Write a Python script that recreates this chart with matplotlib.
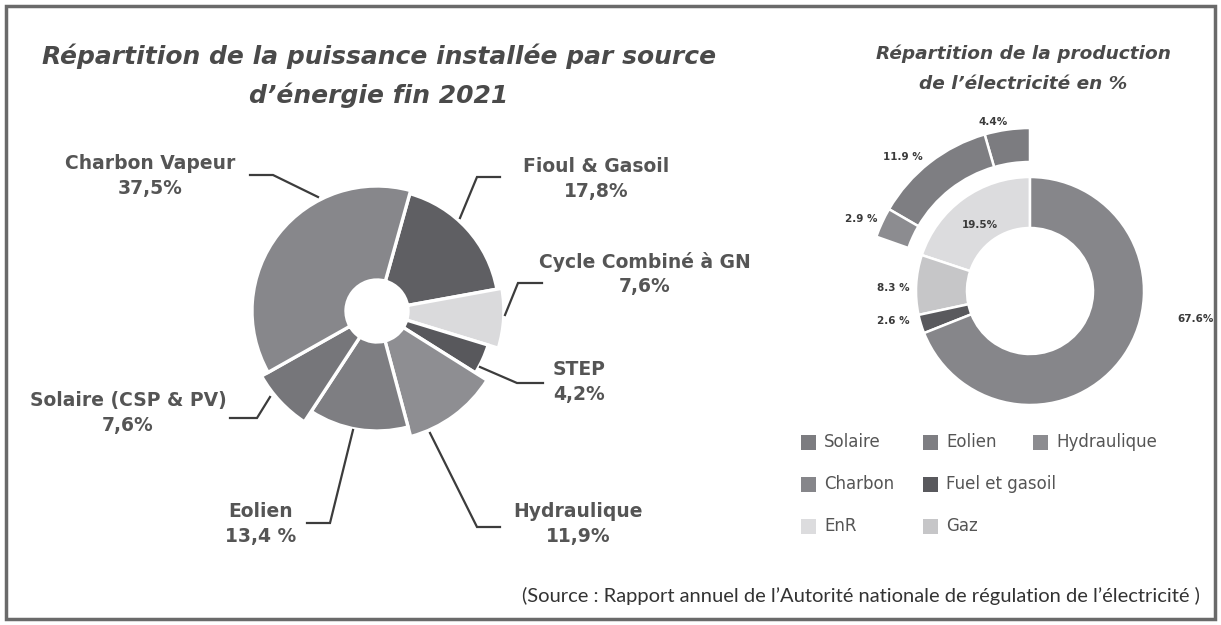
import matplotlib
matplotlib.use("Agg")
import matplotlib.pyplot as plt
from matplotlib.patches import Rectangle

W, H = 1221, 625

# ---- data: installed capacity by source, end 2021 (left chart)
cap_labels = ['Fioul & Gasoil', 'Cycle Combiné à GN', 'STEP', 'Hydraulique',
              'Eolien', 'Solaire (CSP & PV)', 'Charbon Vapeur']
cap_pct = [17.8, 7.6, 4.2, 11.9, 13.4, 7.6, 37.5]
cap_pct_txt = ['17,8%', '7,6%', '4,2%', '11,9%', '13,4 %', '7,6%', '37,5%']

# ---- data: electricity production share (right chart)
prod_labels = ['EnR', 'Gaz', 'Fuel et gasoil', 'Charbon']
prod_pct = [19.5, 8.3, 2.6, 67.6]
enr_labels = ['Solaire', 'Eolien', 'Hydraulique']
enr_pct = [4.4, 11.9, 2.9]

# styles
cap_colors = ['#5f5f63', '#dadadc', '#58585c', '#8e8e92', '#7e7e82', '#76767a', '#87878b']
cap_scale = [0.975, 1.015, 0.93, 1.04, 0.96, 1.06, 1.0]
prod_colors = ['#dcdcde', '#c6c6c8', '#59595d', '#86868a']
enr_colors = ['#7c7c80', '#7e7e82', '#8c8c90']

TXT = '#4a4a4a'
TFONT = 'DejaVu Sans'


def P(x, y):
    # image pixel -> data coords (y up)
    return x, H - y


fig = plt.figure(figsize=(W / 100, H / 100), dpi=100)
ax = fig.add_axes([0, 0, 1, 1])

# left pie with a small hole and unequal radii
R0, HOLE = 125, 31
wedges, _ = ax.pie(cap_pct, center=P(377, 311), radius=R0, startangle=74.4,
                   counterclock=False, colors=cap_colors,
                   explode=[0, 0, 0, 0, 0, 0.04, 0],
                   wedgeprops=dict(width=R0 - HOLE, edgecolor='white', linewidth=2.4))
for w, s in zip(wedges, cap_scale):
    w.set_radius(R0 * s)
    w.set_width(R0 * s - HOLE)

# right donut: inner ring + EnR breakdown ring
Ri = 114
inner, _ = ax.pie(prod_pct, center=P(1030, 291), radius=Ri, startangle=90,
                  colors=prod_colors,
                  wedgeprops=dict(width=51, edgecolor='white', linewidth=1.8))
tot = sum(prod_pct)
outer, _ = ax.pie([v / tot for v in enr_pct], center=P(1030, 291), radius=163,
                  startangle=90, normalize=False, colors=enr_colors,
                  wedgeprops=dict(width=34, edgecolor='white', linewidth=1.8))

# titles
for txt, y in [('Répartition de la puissance installée par source', 56),
               ('d’énergie fin 2021', 95)]:
    ax.text(*P(379, y), txt, ha='center', va='center', fontsize=18,
            fontweight='bold', style='italic', family=TFONT, color=TXT)
for txt, y in [('Répartition de la production', 54),
               ('de l’électricité en %', 84)]:
    ax.text(*P(1023, y), txt, ha='center', va='center', fontsize=13.3,
            fontweight='bold', style='italic', family=TFONT, color=TXT)

# left labels + leader lines
lab_pos = [(596, 179), (645, 274), (579, 382), (578, 524),
           (261, 524), (128, 413), (150, 176)]
leaders = [
    [(500, 177), (477, 177), (460, 218)],
    [(542, 283), (518, 283), (505, 315)],
    [(480, 367), (517, 383), (543, 383)],
    [(430, 433), (477, 527), (500, 527)],
    [(353, 430), (330, 523), (307, 523)],
    [(230, 418), (257, 418), (270, 397)],
    [(250, 175), (273, 175), (318, 197)],
]
for name, pct, (x, y), pts in zip(cap_labels, cap_pct_txt, lab_pos, leaders):
    ax.text(*P(x, y), name + '\n' + pct, ha='center', va='center',
            multialignment='center', fontsize=13.5, fontweight='bold',
            family='DejaVu Sans', color='#555555', linespacing=1.35)
    xs = [p[0] for p in pts]
    ys = [H - p[1] for p in pts]
    ax.plot(xs, ys, color='#3c3c3c', lw=1.6, solid_joinstyle='miter')

# donut labels
donut_txt = ['4.4%', '11.9 %', '2.9 %', '19.5%', '8.3 %', '2.6 %', '67.6%']
donut_pos = [(993, 122), (903, 157), (861, 219), (980, 225),
             (893, 288), (893, 321), (1196, 319)]
for t, (x, y) in zip(donut_txt, donut_pos):
    ax.text(*P(x, y), t, ha='center', va='center', fontsize=7.5,
            fontweight='bold', family=TFONT, color='#3a3a3a')

# legend laid out as a grid like the original
leg_items = [('Solaire', enr_colors[0]), ('Eolien', enr_colors[1]),
             ('Hydraulique', enr_colors[2]), ('Charbon', prod_colors[3]),
             ('Fuel et gasoil', prod_colors[2]), ('EnR', prod_colors[0]),
             ('Gaz', prod_colors[1])]
col_x = [801, 923, 1033]
row_y = [442, 484, 526]
grid = [(0, 0), (0, 1), (0, 2), (1, 0), (1, 1), (2, 0), (2, 1)]
for (name, c), (r, k) in zip(leg_items, grid):
    x0, y0 = col_x[k], row_y[r]
    ax.add_patch(Rectangle((x0, H - y0 - 7.5), 15, 15, facecolor=c,
                           edgecolor='none'))
    ax.text(x0 + 23, H - y0, name, ha='left', va='center', fontsize=12,
            family='DejaVu Sans', color='#555555')

ax.text(*P(1200, 596),
        '(Source : Rapport annuel de l’Autorité nationale de régulation de l’électricité )',
        ha='right', va='center', fontsize=14.5, family='Lato', color='#333333')

# outer frame
ax.add_patch(Rectangle((6, 6), W - 12, H - 12, facecolor='none',
                       edgecolor='#6a6a6a', linewidth=2.5))

ax.set_xlim(0, W)
ax.set_ylim(0, H)
ax.set_aspect('equal')
ax.axis('off')

fig.savefig('out.png', dpi=100, facecolor='white')
